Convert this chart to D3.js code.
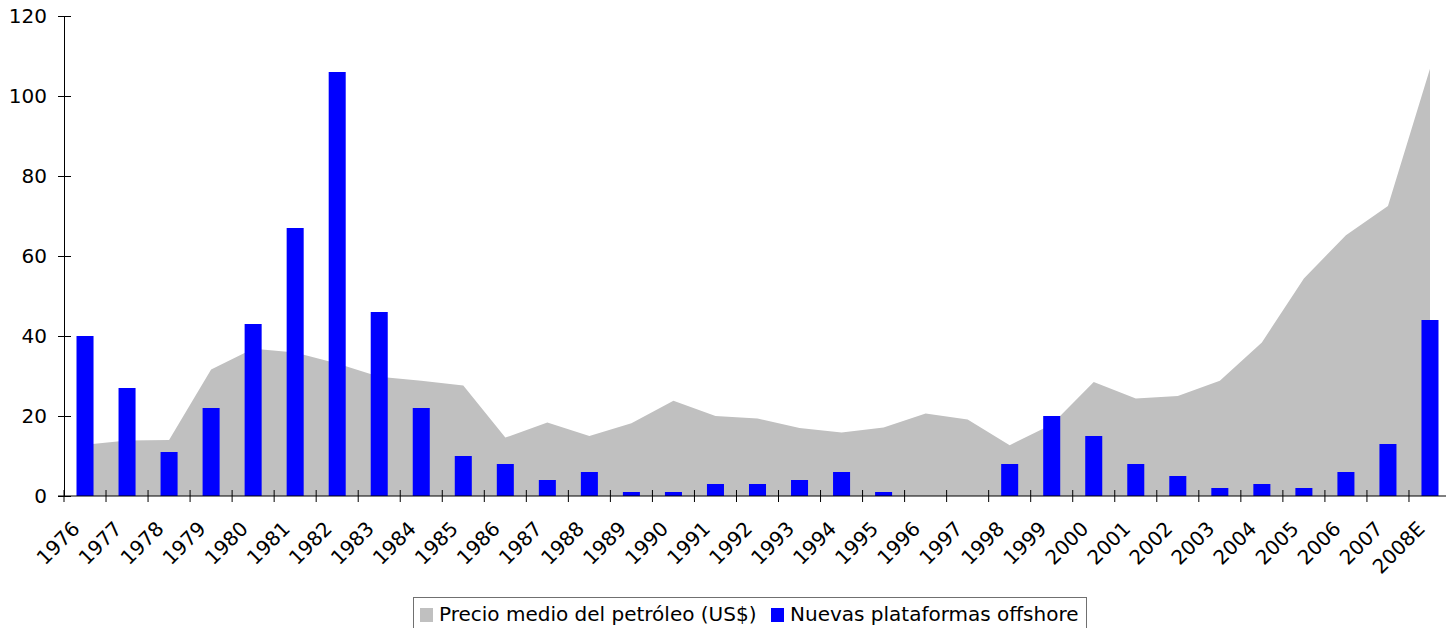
<!DOCTYPE html>
<html>
<head>
<meta charset="utf-8">
<script src="https://cdn.jsdelivr.net/npm/d3@7"></script>
<style>
  body { margin: 0; background: #fff; overflow: hidden; }
  svg { display: block; }
  text { font-family: "DejaVu Sans", sans-serif; font-size: 20px; fill: #000; }
</style>
</head>
<body>
<svg width="1446" height="628"></svg>
<script>
// data
var years = ["1976","1977","1978","1979","1980","1981","1982","1983","1984","1985",
             "1986","1987","1988","1989","1990","1991","1992","1993","1994","1995",
             "1996","1997","1998","1999","2000","2001","2002","2003","2004","2005",
             "2006","2007","2008E"];
var oilPrice = [12.8, 13.9, 14.0, 31.6, 36.8, 35.9, 33.1, 29.8, 28.8, 27.6,
                14.6, 18.4, 15.0, 18.2, 23.8, 20.0, 19.4, 17.0, 15.9, 17.1,
                20.6, 19.1, 12.7, 17.9, 28.5, 24.4, 25.0, 28.8, 38.4, 54.4,
                65.2, 72.5, 106.8];
var platforms = [40, 27, 11, 22, 43, 67, 106, 46, 22, 10,
                 8, 4, 6, 1, 1, 3, 3, 4, 6, 1,
                 0, 0, 8, 20, 15, 8, 5, 2, 3, 2,
                 6, 13, 44];
var yTicks = [0, 20, 40, 60, 80, 100, 120];
var seriesNames = ["Precio medio del petróleo (US$)", "Nuevas plataformas offshore"];
var seriesColors = ["#c0c0c0", "#0000ff"];

var svg = d3.select("svg");

var x = d3.scaleBand().domain(years).range([64, 1451]).padding(0);
var y = d3.scaleLinear().domain([0, 120]).range([496, 16]);
var barW = x.bandwidth() * 0.405;

// oil price area
var area = d3.area()
    .x(function (d, i) { return x(years[i]) + x.bandwidth() / 2; })
    .y0(y(0))
    .y1(function (d) { return y(d); });

svg.append("path")
    .datum(oilPrice)
    .attr("d", area)
    .style("fill", seriesColors[0]);

// platform bars
svg.append("g")
  .selectAll("rect")
  .data(platforms)
  .enter()
  .append("rect")
    .attr("x", function (d, i) { return x(years[i]) + x.bandwidth() / 2 - barW / 2; })
    .attr("y", function (d) { return y(d); })
    .attr("width", barW)
    .attr("height", function (d) { return y(0) - y(d); })
    .style("fill", seriesColors[1]);

// y axis (ticks crossing the line)
var yAxis = svg.append("g")
    .attr("transform", "translate(64,0)")
    .call(d3.axisLeft(y).tickValues(yTicks).tickSize(-7).tickPadding(17).tickSizeOuter(0));
yAxis.attr("font-family", null).attr("font-size", null);
yAxis.selectAll(".tick").append("line").attr("x2", -6).attr("stroke", "#000");
yAxis.select(".domain").attr("stroke", "#000");

// x axis: ticks at category boundaries, labels rotated
var xAxis = svg.append("g").attr("transform", "translate(0,496)");
xAxis.append("line")
    .attr("x1", 58).attr("x2", 1451)
    .attr("stroke", "#000");
var bounds = years.map(function (c) { return x(c); }).concat([x.range()[1]]);
xAxis.selectAll(".xt")
  .data(bounds)
  .enter()
  .append("line")
    .attr("class", "xt")
    .attr("x1", function (d) { return d; })
    .attr("x2", function (d) { return d; })
    .attr("y1", -6).attr("y2", 6)
    .attr("stroke", "#000");
xAxis.selectAll(".xl")
  .data(years)
  .enter()
  .append("text")
    .attr("class", "xl")
    .attr("text-anchor", "end")
    .attr("transform", function (d) {
      return "translate(" + (x(d) + x.bandwidth() / 2 - 4) + ",34) rotate(-45)";
    })
    .text(function (d) { return d; });

// legend
var legend = svg.append("g");
legend.append("rect")
    .attr("x", 413.5).attr("y", 597.5)
    .attr("width", 673).attr("height", 40)
    .style("fill", "#fff")
    .style("stroke", "#707070");
var lx = [420, 771];
seriesNames.forEach(function (name, i) {
  legend.append("rect")
    .attr("x", lx[i]).attr("y", 608)
    .attr("width", 13).attr("height", 14)
    .style("fill", seriesColors[i]);
  legend.append("text")
    .attr("x", lx[i] + 19).attr("y", 621)
    .text(name);
});
</script>
</body>
</html>
